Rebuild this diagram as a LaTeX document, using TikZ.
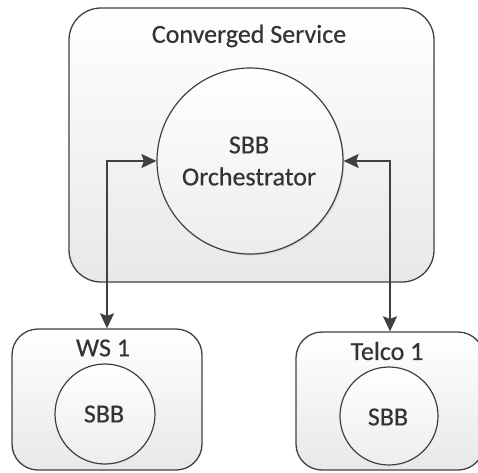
\documentclass[tikz,border=0pt]{standalone}
\usepackage{fontspec}
\setmainfont[FakeBold=0.4]{Carlito}
\usetikzlibrary{shadows,arrows.meta}
\definecolor{edge}{HTML}{404040}
\definecolor{ink}{HTML}{333333}
\begin{document}
\begin{tikzpicture}[x=1pt,y=-1pt,
  panel/.style={draw=edge, line width=1.3pt, rounded corners=#1,
    top color=white, bottom color=black!9, inner sep=0pt},
  ball/.style={circle, draw=edge, line width=1.2pt, inner sep=0pt,
    top color=white, bottom color=black!7},
  caption/.style={font=\fontsize{26}{32}\selectfont, text=ink, inner sep=0pt},
  link/.style={draw=edge, line width=1.5pt,
    {Stealth[length=15pt,width=14pt,inset=2.5pt]}-{Stealth[length=15pt,width=14pt,inset=2.5pt]}}]
\useasboundingbox (0,0) rectangle (478,472);
\begin{scope}
\clip (0,0) rectangle (478,472);
% outer service container
\node[panel=32, minimum width=365pt, minimum height=274pt] (svc) at (251.5,145) {};
\node[caption] (svctitle) at (249,36) {Converged Service};
\node[ball, minimum size=186pt,
  drop shadow={opacity=0.18, shadow xshift=1.5pt, shadow yshift=-1.5pt}] (orch) at (250,161) {};
\node[caption, align=center] (orchtext) at (249,161) {SBB\\Orchestrator};
% component containers
\node[panel=26, minimum width=190pt, minimum height=141pt] (ws) at (107,399.5) {};
\node[caption] (wstitle) at (103,348) {WS 1};
\node[ball, minimum size=100pt] (wssbb) at (105,414) {};
\node[caption] (wstext) at (104,414) {SBB};
\node[panel=26, minimum width=188pt, minimum height=138pt] (telco) at (390,401) {};
\node[caption] (telcotitle) at (387,351) {Telco 1};
\node[ball, minimum size=98pt] (telcosbb) at (389,416) {};
\node[caption] (telcotext) at (388,417) {SBB};
% connections
\draw[link] (ws.north) |- (orch.west);
\draw[link] (telco.north) |- (orch.east);
\end{scope}
\end{tikzpicture}
\end{document}
